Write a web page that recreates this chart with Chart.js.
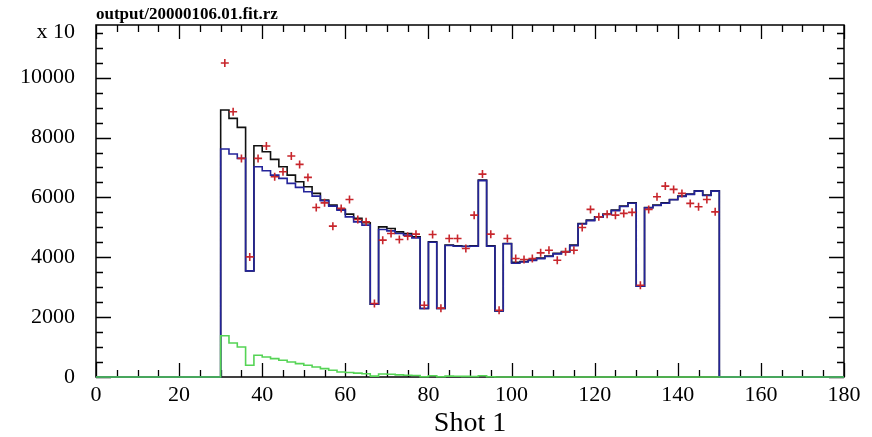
<!DOCTYPE html>
<html>
<head>
<meta charset="utf-8">
<title>output/20000106.01.fit.rz</title>
<script src="https://cdn.jsdelivr.net/npm/chart.js@4.4.0/dist/chart.umd.min.js"></script>
<style>
  html, body { margin: 0; padding: 0; background: #fff; }
  canvas { display: block; }
</style>
</head>
<body>
<canvas id="fitChart" width="872" height="437"></canvas>
<script>
// Histogram of shot 1: bins of width 2 from 30 to 150
const binStart = 30;
const binWidth = 2;

// measured counts (x 10), one per bin
const measured = [
  8920, 8640, 8340, 3545, 7726, 7525, 7270, 7023, 6746, 6522,
  6355, 6134, 5910, 5743, 5599, 5441, 5298, 5151, 2431, 5017,
  4963, 4850, 4796, 4682, 2287, 4515, 2287, 4405, 4380, 4370,
  4380, 6579, 4380, 2207, 4461, 3830, 3860, 3910, 3970, 4040,
  4130, 4190, 4405, 5130, 5241, 5351, 5441, 5575, 5709, 5819,
  3033, 5665, 5743, 5819, 5932, 6043, 6110, 6221, 6077, 6221
];

// fitted model
const fitted = [
  7615, 7448, 7304, 3545, 7023, 6890, 6746, 6635, 6468, 6334,
  6187, 6043, 5886, 5709, 5575, 5351, 5184, 5074, 2431, 4930,
  4883, 4796, 4739, 4649, 2287, 4500, 2287, 4395, 4370, 4360,
  4370, 6560, 4370, 2207, 4450, 3800, 3840, 3895, 3955, 4025,
  4115, 4175, 4390, 5110, 5225, 5335, 5430, 5560, 5695, 5805,
  3033, 5650, 5730, 5805, 5920, 6030, 6100, 6210, 6065, 6210
];

// background component of the fit
const background = [
  1380, 1137, 1003, 391, 726, 669, 615, 559, 502, 448,
  391, 334, 281, 224, 167, 150, 130, 110, 30, 100,
  90, 70, 60, 50, 10, 40, 10, 30, 25, 20,
  15, 40, 10, 0, 0, 0, 0, 0, 0, 0,
  0, 0, 0, 0, 0, 0, 0, 0, 0, 0,
  0, 0, 0, 0, 0, 0, 0, 0, 0, 0
];

// data points plotted at bin centres
const points = [
  10492, 8863, 7304, 4013, 7304, 7716, 6689, 6856, 7381, 7103,
  6669, 5665, 5819, 5040, 5632, 5932, 5264, 5184, 2455, 4572,
  4796, 4595, 4700, 4772, 2398, 4762, 2300, 4628, 4628, 4294,
  5408, 6779, 4772, 2231, 4628, 3960, 3926, 3960, 4147, 4237,
  3903, 4181, 4237, 4996, 5599, 5351, 5441, 5408, 5465, 5500,
  3067, 5599, 6020, 6378, 6267, 6134, 5799, 5686, 5932, 5518
];

const xTicks = [0, 20, 40, 60, 80, 100, 120, 140, 160, 180];
const yTicks = [0, 2000, 4000, 6000, 8000, 10000];

const X_MIN = 0, X_MAX = 180, Y_MAX = 11760;
const serif = '"Liberation Serif", "DejaVu Serif", serif';

// turn bin contents into a stepped outline that sits on zero outside the range
function histLine(values) {
  const pts = [{ x: X_MIN, y: 0 }];
  values.forEach((v, i) => pts.push({ x: binStart + i * binWidth, y: v }));
  pts.push({ x: binStart + values.length * binWidth, y: 0 });
  pts.push({ x: X_MAX, y: 0 });
  return pts;
}

const crossPts = points.map((v, i) => ({ x: binStart + i * binWidth + binWidth / 2, y: v }));

// PAW style frame: ticks pointing inwards on all four sides, drawn under the data
const paw = {
  id: 'paw',
  beforeDatasetsDraw(chart) {
    const { ctx, chartArea: a, scales: { x, y } } = chart;
    ctx.save();
    ctx.strokeStyle = '#000';
    ctx.lineWidth = 1.5;
    ctx.strokeRect(a.left, a.top, a.right - a.left, a.bottom - a.top);

    ctx.lineWidth = 1.3;
    ctx.beginPath();
    for (let v = X_MIN; v <= X_MAX; v += 5) {
      const px = Math.round(x.getPixelForValue(v)) + 0.5;
      const len = xTicks.includes(v) ? 14 : 7;
      ctx.moveTo(px, a.bottom); ctx.lineTo(px, a.bottom - len);
      ctx.moveTo(px, a.top); ctx.lineTo(px, a.top + len);
    }
    for (let v = 0; v <= Y_MAX; v += 500) {
      const py = Math.round(y.getPixelForValue(v)) + 0.5;
      const len = yTicks.includes(v) ? 15 : 7;
      ctx.moveTo(a.left, py); ctx.lineTo(a.left + len, py);
      ctx.moveTo(a.right, py); ctx.lineTo(a.right - len, py);
    }
    ctx.stroke();
    ctx.restore();
  },
  afterDraw(chart) {
    const { ctx, chartArea: a } = chart;
    ctx.save();
    ctx.fillStyle = '#000';
    ctx.font = 'bold 17px ' + serif;
    ctx.textAlign = 'left';
    ctx.textBaseline = 'alphabetic';
    ctx.fillText('output/20000106.01.fit.rz', a.left, 19);

    ctx.font = '22px ' + serif;
    ctx.textAlign = 'right';
    ctx.fillText('x 10', 75, 38);

    ctx.font = '28px ' + serif;
    ctx.textAlign = 'center';
    ctx.fillText('Shot 1', (a.left + a.right) / 2, 431);
    ctx.restore();
  }
};

// first dataset ends up on top: crosses, then background, fit, measured
new Chart(document.getElementById('fitChart'), {
  type: 'line',
  data: {
    datasets: [
      {
        type: 'scatter',
        data: crossPts,
        pointStyle: 'cross',
        pointRadius: 4,
        pointBorderWidth: 1.6,
        borderColor: '#c8262c',
        backgroundColor: '#c8262c',
        showLine: false,
        clip: false
      },
      {
        data: histLine(background),
        stepped: 'before',
        borderColor: '#55d455',
        borderWidth: 1.6,
        pointRadius: 0,
        fill: false,
        clip: false
      },
      {
        data: histLine(fitted),
        stepped: 'before',
        borderColor: '#24249a',
        borderWidth: 1.6,
        pointRadius: 0,
        fill: false,
        clip: false
      },
      {
        data: histLine(measured),
        stepped: 'before',
        borderColor: '#111',
        borderWidth: 1.6,
        pointRadius: 0,
        fill: false,
        clip: false
      }
    ]
  },
  options: {
    responsive: false,
    animation: false,
    layout: { padding: { top: 25, right: 28, left: 0, bottom: 0 } },
    plugins: {
      legend: { display: false },
      tooltip: { enabled: false }
    },
    scales: {
      x: {
        type: 'linear',
        min: X_MIN,
        max: X_MAX,
        afterFit: s => { s.height = 60; s.paddingLeft = 0; s.paddingRight = 0; },
        grid: { display: false, drawTicks: false },
        border: { display: false },
        afterBuildTicks: s => { s.ticks = xTicks.map(v => ({ value: v })); },
        ticks: {
          maxRotation: 0,
          padding: 5,
          color: '#000',
          font: { family: serif, size: 22 }
        }
      },
      y: {
        type: 'linear',
        min: 0,
        max: Y_MAX,
        afterFit: s => { s.width = 96; s.paddingTop = 0; s.paddingBottom = 0; },
        grid: { display: false, drawTicks: false },
        border: { display: false },
        afterBuildTicks: s => { s.ticks = yTicks.map(v => ({ value: v })); },
        ticks: {
          padding: 21,
          color: '#000',
          font: { family: serif, size: 22 },
          callback: v => String(v)
        }
      }
    }
  },
  plugins: [paw]
});
</script>
</body>
</html>
